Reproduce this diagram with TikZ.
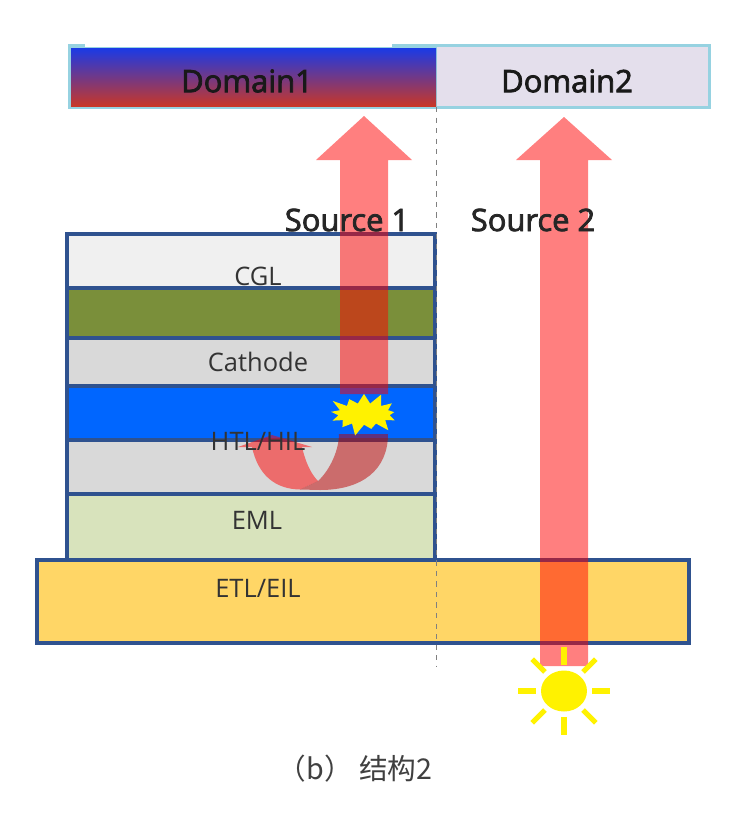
\documentclass[tikz,border=0pt]{standalone}
\usepackage{fontspec}
\setmainfont{Open Sans}
\newfontfamily\heavyfont[FakeBold=2.5]{Open Sans}
\newfontfamily\cjk{Noto Sans CJK SC}
\usetikzlibrary{shapes.geometric}
\usetikzlibrary{shapes.symbols}
\definecolor{layeredge}{RGB}{47,82,143}
\definecolor{domainedge}{RGB}{150,210,225}
\definecolor{domainfill}{RGB}{228,223,236}
\definecolor{gradtop}{RGB}{26,58,230}
\definecolor{gradmid}{RGB}{10,200,90}
\definecolor{gradbot}{RGB}{200,55,40}
\definecolor{cglfill}{RGB}{240,240,240}
\definecolor{olivefill}{RGB}{122,143,58}
\definecolor{grayfill}{RGB}{217,217,217}
\definecolor{bluefill}{RGB}{0,102,255}
\definecolor{emlfill}{RGB}{216,227,188}
\definecolor{etlfill}{RGB}{255,214,102}
\definecolor{darkred}{RGB}{190,0,0}
\tikzset{
    layer/.style={draw=layeredge, line width=2pt},
    beam/.style={fill=red, fill opacity=0.5},
    layerlabel/.style={font=\fontsize{14.5}{16}\selectfont, text=black!80},
    domainlabel/.style={font=\fontsize{17.6}{20}\heavyfont, text=black!90},
    sourcelabel/.style={font=\fontsize{17.6}{20}\heavyfont, text=black!85},
    sunray/.style={draw=yellow, line width=3pt},
}

\begin{document}
\begin{tikzpicture}[x=0.02cm, y=-0.02cm]
    \useasboundingbox (0, 0) rectangle (739, 816);

    % Domain bars
    \fill[domainedge] (68, 44) rectangle (711, 109);
    \fill[white] (85, 43) rectangle (392, 46.5);
    \fill[domainfill] (437, 47) rectangle (708, 106);
    \shade[top color=gradtop, middle color=gradmid, bottom color=gradbot] (71, 48) rectangle (436, 106);

    % Stack of layers
    \foreach \ytop/\ybot/\col in {234/288/cglfill, 288/338/olivefill, 338/386/grayfill,
                                  386/440/bluefill, 440/494/grayfill, 494/561/emlfill} {
        \draw[layer, fill=\col] (67, \ytop) rectangle (435, \ybot);
    }
    \draw[layer, fill=etlfill] (37, 560) rectangle (689, 643);

    % Divider between the two domains
    \coordinate (divtop) at (436, 107);
    \coordinate (divbot) at (436, 667);
    \draw[dashed, gray, line width=0.5pt] (divtop) -- (divbot);

    % Straight beams
    \fill[beam] (364, 116) -- (412, 160) -- (388, 160) -- (388, 394) -- (340, 394) -- (340, 160) -- (316, 160) -- cycle;
    \fill[beam] (564, 117) -- (612, 160) -- (588, 160) -- (588, 666) -- (540, 666) -- (540, 160) -- (516, 160) -- cycle;

    % Bent beam below the flash
    \fill[beam] (272, 435) -- (312, 447) -- (302, 447) .. controls (305, 460) and (310, 473) .. (318, 481)
        -- (300, 489.5) .. controls (275, 489) and (258, 475) .. (252, 447) -- (238, 447) -- cycle;
    \fill[darkred, fill opacity=0.5] (339, 434) -- (388, 434) .. controls (388, 470) and (362, 490) .. (320, 490)
        -- (300, 489.5) -- (318, 481) .. controls (330, 470) and (339, 450) .. cycle;

    % Flash
    \node[starburst, starburst points=13, starburst point height=0.26cm, fill=yellow, draw=none,
        minimum width=1.55cm, minimum height=0.95cm, inner sep=0pt] (flash) at (364, 414) {};

    % Sun with its rays
    \node[ellipse, fill=yellow, minimum width=0.92cm, minimum height=0.82cm, inner sep=0pt] (sun) at (564, 691) {};
    \foreach \a in {0,45,...,315} {
        \draw[sunray] ([shift={(-\a:5)}]sun.\a) -- ([shift={(-\a:23)}]sun.\a);
    }

    % Labels
    \node[domainlabel] (domain1) at (247, 81) {Domain1};
    \node[domainlabel] (domain2) at (567, 81) {Domain2};
    \node[sourcelabel] (source1) at (347, 220) {Source 1};
    \node[sourcelabel] (source2) at (533, 220) {Source 2};
    \node[layerlabel] (cgl) at (258, 276) {CGL};
    \node[layerlabel] (cathode) at (258, 362) {Cathode};
    \node[layerlabel] (htl) at (258, 441) {HTL/HIL};
    \node[layerlabel] (eml) at (257, 520) {EML};
    \node[layerlabel] (etl) at (258, 588) {ETL/EIL};
    \node[font=\fontsize{16.3}{18}\cjk, text=black!75] (caption) at (355, 769) {（b） 结构2};
\end{tikzpicture}
\end{document}
